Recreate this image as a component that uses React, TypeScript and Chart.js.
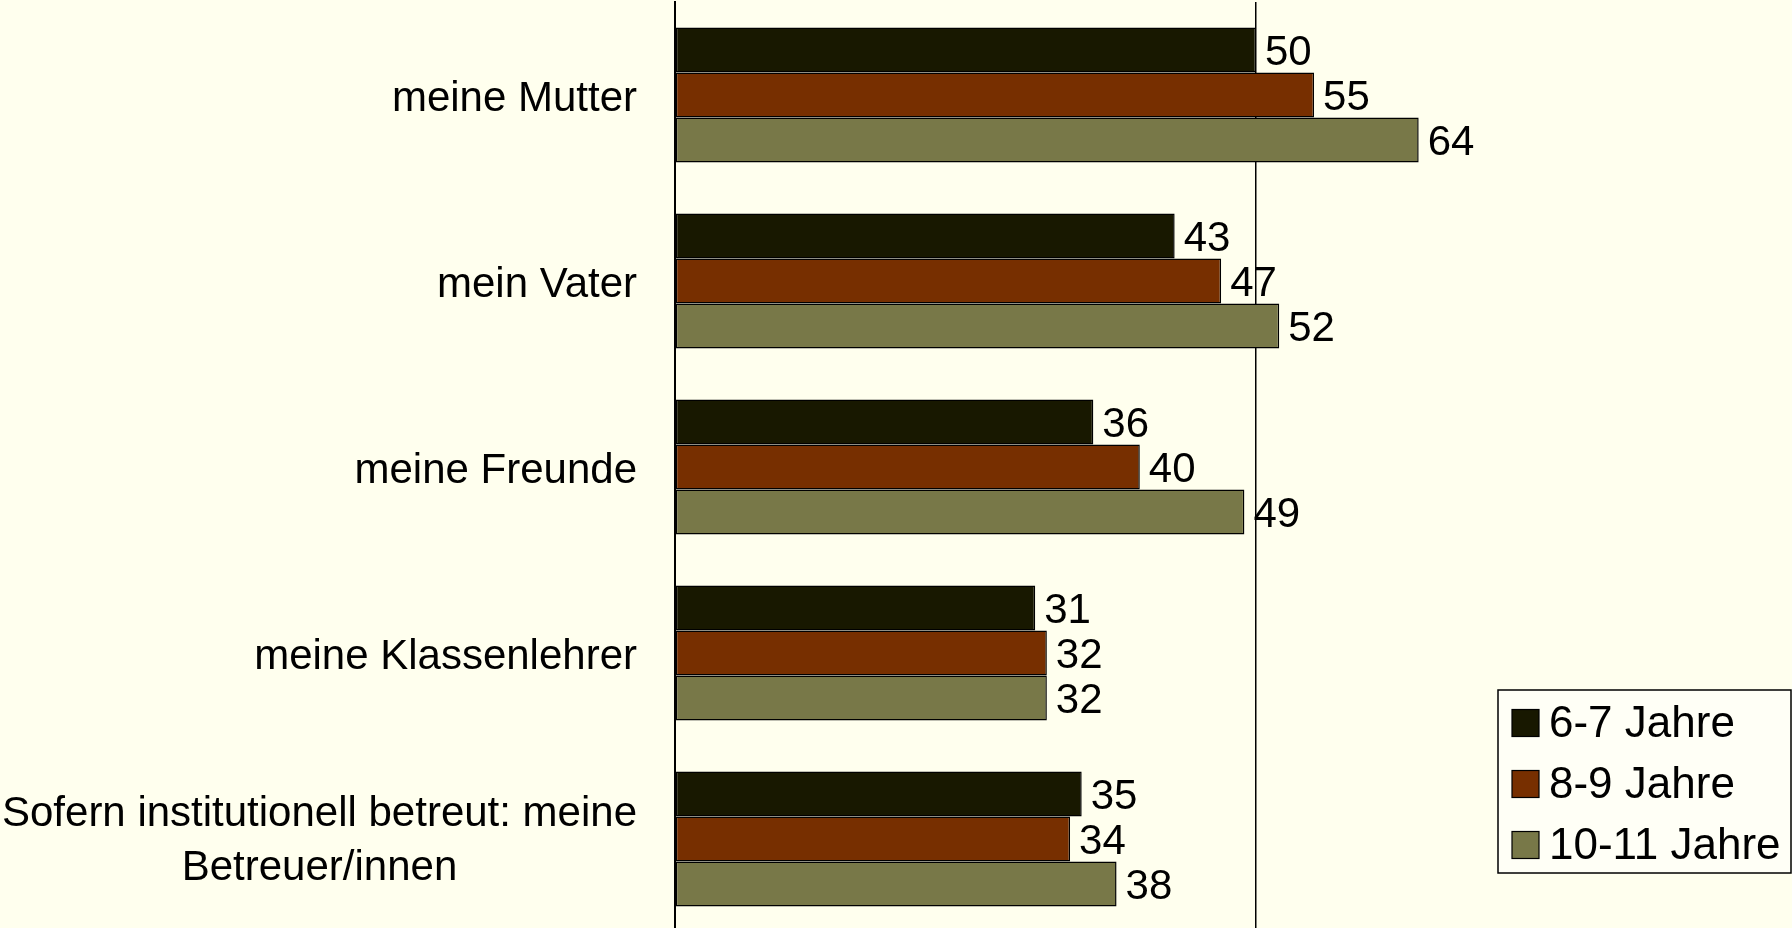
import React, { useEffect, useRef } from "react";
import { Chart, registerables } from "chart.js";

Chart.register(...registerables);

const categories: (string | string[])[] = [
  "meine Mutter",
  "mein Vater",
  "meine Freunde",
  "meine Klassenlehrer",
  ["Sofern institutionell betreut: meine", "Betreuer/innen"],
];
const seriesNames = ["6-7 Jahre", "8-9 Jahre", "10-11 Jahre"];
const age67 = [50, 43, 36, 31, 35];
const age89 = [55, 47, 40, 32, 34];
const age1011 = [64, 52, 49, 32, 38];
const xTicks = [0, 50, 100];

const COLORS = ["#181800", "#772F00", "#787848"];
const BG = "#FFFFEE";
const FONT = '"Liberation Sans", Arial, sans-serif';

const labelsPlugin = {
  id: "customLabels",
  afterDatasetsDraw(chart: any) {
    const ctx = chart.ctx;
    ctx.save();
    ctx.fillStyle = "#000";
    ctx.font = `42px ${FONT}`;
    ctx.textAlign = "left";
    ctx.textBaseline = "middle";
    chart.data.datasets.forEach((ds: any, di: number) => {
      const meta = chart.getDatasetMeta(di);
      meta.data.forEach((bar: any, i: number) => {
        ctx.fillText(String(ds.data[i]), bar.x + 9, bar.y + 3);
      });
    });
    // category labels
    const yScale = chart.scales.y;
    const rightEdge = yScale.right - 38;
    const lineH = 54;
    chart.data.labels.forEach((lab: any, i: number) => {
      const lines: string[] = Array.isArray(lab) ? lab : [lab];
      const cy = yScale.getPixelForValue(i);
      const maxW = Math.max(...lines.map((l) => ctx.measureText(l).width));
      ctx.textAlign = "center";
      lines.forEach((l, j) => {
        const y = cy + (j - (lines.length - 1) / 2) * lineH;
        ctx.fillText(l, rightEdge - maxW / 2, y + (lines.length > 1 ? 2 : 4));
      });
    });
    ctx.restore();
  },
  afterDraw(chart: any) {
    const ctx = chart.ctx;
    ctx.save();
    const bx = 1498, by = 690, bw = 294, bh = 183;
    ctx.fillStyle = "#FFFFF6";
    ctx.fillRect(bx, by, bw, bh);
    ctx.strokeStyle = "#000";
    ctx.lineWidth = 1.5;
    ctx.strokeRect(bx, by, bw - 1, bh);
    ctx.font = `44px ${FONT}`;
    ctx.textAlign = "left";
    ctx.textBaseline = "middle";
    chart.data.datasets.forEach((ds: any, i: number) => {
      const cy = 723 + i * 61;
      ctx.fillStyle = ds.backgroundColor;
      ctx.fillRect(1512, cy - 13.5, 27, 27);
      ctx.strokeStyle = "#000";
      ctx.lineWidth = 1.2;
      ctx.strokeRect(1512, cy - 13.5, 27, 27);
      ctx.fillStyle = "#000";
      ctx.fillText(ds.label, 1549, cy + 2);
    });
    ctx.restore();
  },
};

export default function App() {
  const ref = useRef<HTMLCanvasElement | null>(null);
  useEffect(() => {
    if (!ref.current) return;
    const series = [age67, age89, age1011];
    const chart = new Chart(ref.current, {
      type: "bar",
      data: {
        labels: categories,
        datasets: series.map((d, i) => ({
          label: seriesNames[i],
          data: d,
          backgroundColor: COLORS[i],
          borderColor: "#000",
          borderWidth: 1.5,
          borderSkipped: false,
          categoryPercentage: 0.726,
          barPercentage: 1.0,
        })),
      },
      options: {
        indexAxis: "y",
        animation: false,
        responsive: false,
        events: [],
        layout: { padding: { top: 2, bottom: 2, right: 3, left: 0 } },
        plugins: {
          legend: { display: false },
          tooltip: { enabled: false },
          title: { display: false },
        },
        scales: {
          x: {
            min: xTicks[0],
            max: xTicks[xTicks.length - 1],
            ticks: { display: false, stepSize: xTicks[1] - xTicks[0] },
            grid: { color: "#000", lineWidth: 1.5, drawTicks: false },
            border: { display: false },
            afterFit(scale: any) {
              scale.height = 0;
            },
          },
          y: {
            ticks: { display: false },
            grid: { display: false, drawTicks: false },
            border: { display: true, color: "#000", width: 2 },
            afterFit(scale: any) {
              scale.width = 675;
            },
          },
        },
      },
      plugins: [labelsPlugin],
    });
    return () => chart.destroy();
  }, []);
  return (
    <div
      style={{
        position: "fixed",
        left: 0,
        top: 0,
        width: 1792,
        height: 928,
        overflow: "hidden",
        background: BG,
      }}
    >
      <canvas ref={ref} width={1840} height={934} style={{ display: "block" }} />
    </div>
  );
}
